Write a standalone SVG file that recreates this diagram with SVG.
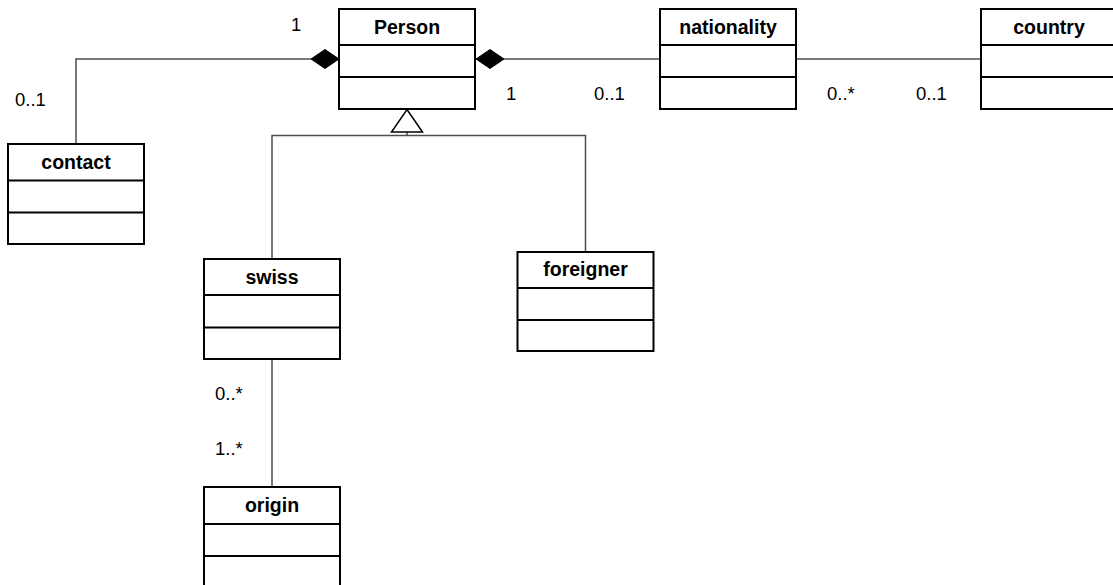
<svg xmlns="http://www.w3.org/2000/svg" width="1113" height="585" viewBox="0 0 1113 585">
<style>
.box{fill:#fff;stroke:#000;stroke-width:2}
.sep{stroke:#000;stroke-width:2}
.name{font-family:"Liberation Sans",Arial,sans-serif;font-weight:bold;font-size:19.5px;text-anchor:middle;fill:#000}
.mult{font-family:"Liberation Sans",Arial,sans-serif;font-size:18.5px;fill:#000}
.conn{fill:none;stroke:#4d4d4d;stroke-width:1.5}
.dia{fill:#000;stroke:#000;stroke-width:1}
.tri{fill:#fff;stroke:#000;stroke-width:1.5}
</style>
<rect width="1113" height="585" fill="#fff"/>
<g id="connectors">
  <polyline class="conn" points="311,59 76,59 76,144"/>
  <line class="conn" x1="504" y1="59" x2="660" y2="59"/>
  <line class="conn" x1="796" y1="59" x2="981" y2="59"/>
  <line class="conn" x1="407" y1="132" x2="407" y2="135.5"/>
  <polyline class="conn" points="272,259 272,135.5 585.5,135.5 585.5,252"/>
  <line class="conn" x1="272" y1="359" x2="272" y2="487"/>
  <polygon class="dia" points="311,59 325,49.5 339,59 325,68.5"/>
  <polygon class="dia" points="476,59 490,49.5 504,59 490,68.5"/>
  <polygon class="tri" points="407,109.5 422.5,132 391.5,132"/>
  <text class="mult" x="291" y="30.5">1</text>
  <text class="mult" x="15" y="105.5">0..1</text>
  <text class="mult" x="506" y="100">1</text>
  <text class="mult" x="594" y="100">0..1</text>
  <text class="mult" x="827" y="100">0..*</text>
  <text class="mult" x="916" y="100">0..1</text>
  <text class="mult" x="215" y="399.5">0..*</text>
  <text class="mult" x="215" y="455">1..*</text>
</g>
<g id="Person">
  <rect class="box" x="339" y="9" width="136" height="100"/>
  <line class="sep" x1="339" y1="45" x2="475" y2="45"/>
  <line class="sep" x1="339" y1="77" x2="475" y2="77"/>
  <text class="name" x="407" y="33.5">Person</text>
</g>
<g id="nationality">
  <rect class="box" x="660" y="9" width="136" height="100"/>
  <line class="sep" x1="660" y1="45" x2="796" y2="45"/>
  <line class="sep" x1="660" y1="77" x2="796" y2="77"/>
  <text class="name" x="728" y="33.5">nationality</text>
</g>
<g id="country">
  <rect class="box" x="981" y="9" width="136" height="100"/>
  <line class="sep" x1="981" y1="45" x2="1117" y2="45"/>
  <line class="sep" x1="981" y1="77" x2="1117" y2="77"/>
  <text class="name" x="1049" y="33.5">country</text>
</g>
<g id="contact">
  <rect class="box" x="8" y="144" width="136" height="100"/>
  <line class="sep" x1="8" y1="180.5" x2="144" y2="180.5"/>
  <line class="sep" x1="8" y1="212.5" x2="144" y2="212.5"/>
  <text class="name" x="76" y="168.5">contact</text>
</g>
<g id="swiss">
  <rect class="box" x="204" y="259" width="136" height="100"/>
  <line class="sep" x1="204" y1="295" x2="340" y2="295"/>
  <line class="sep" x1="204" y1="327.5" x2="340" y2="327.5"/>
  <text class="name" x="272" y="283.5">swiss</text>
</g>
<g id="foreigner">
  <rect class="box" x="517.5" y="252" width="136" height="99"/>
  <line class="sep" x1="517.5" y1="288" x2="653.5" y2="288"/>
  <line class="sep" x1="517.5" y1="320" x2="653.5" y2="320"/>
  <text class="name" x="585.5" y="276">foreigner</text>
</g>
<g id="origin">
  <rect class="box" x="204" y="487" width="136" height="100"/>
  <line class="sep" x1="204" y1="524" x2="340" y2="524"/>
  <line class="sep" x1="204" y1="556" x2="340" y2="556"/>
  <text class="name" x="272" y="511.5">origin</text>
</g>
</svg>
